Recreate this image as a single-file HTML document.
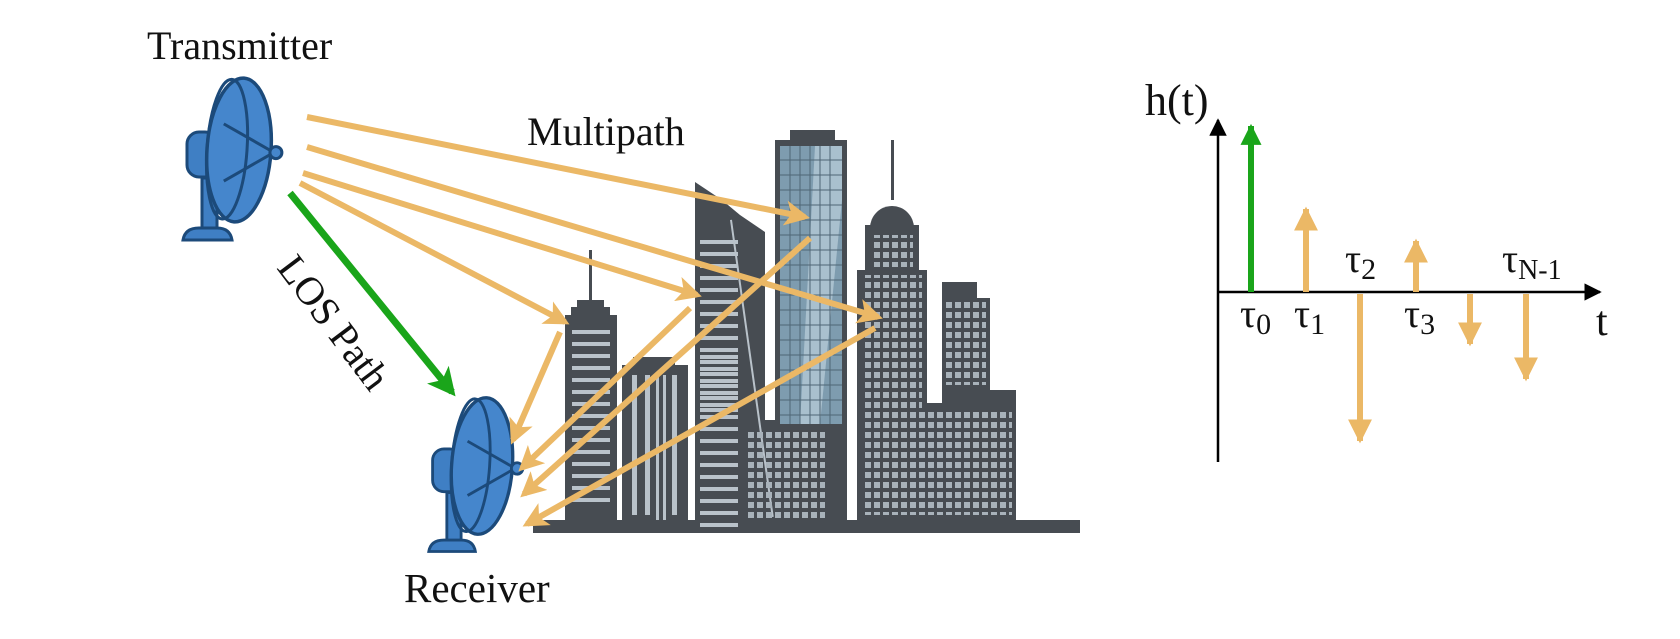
<!DOCTYPE html>
<html><head><meta charset="utf-8"><style>
html,body{margin:0;padding:0;background:#fff;}
svg{display:block;}
text{font-family:"Liberation Serif",serif;fill:#111;}
</style></head><body>
<svg width="1680" height="639" viewBox="0 0 1680 639" xmlns="http://www.w3.org/2000/svg">
<defs>
<marker id="ao" viewBox="0 0 10 10" refX="8" refY="5" markerWidth="4.2" markerHeight="4.2" orient="auto" markerUnits="strokeWidth"><path d="M0,0 L10,5 L0,10 L2.5,5 z" fill="#EBB866"/></marker>
<marker id="ag" viewBox="0 0 10 10" refX="8" refY="5" markerWidth="4" markerHeight="4" orient="auto" markerUnits="strokeWidth"><path d="M0,0 L10,5 L0,10 L2.5,5 z" fill="#1AA51A"/></marker>
<marker id="ao2" viewBox="0 0 10 10" refX="9" refY="5" markerWidth="4" markerHeight="4" orient="auto" markerUnits="strokeWidth"><path d="M0,0 L10,5 L0,10 z" fill="#EBB866"/></marker>
<marker id="ag2" viewBox="0 0 10 10" refX="9" refY="5" markerWidth="3.5" markerHeight="3.5" orient="auto" markerUnits="strokeWidth"><path d="M0,0 L10,5 L0,10 z" fill="#1AA51A"/></marker>
<marker id="ak" viewBox="0 0 10 10" refX="9" refY="5" markerWidth="7" markerHeight="7" orient="auto" markerUnits="strokeWidth"><path d="M0,0 L10,5 L0,10 z" fill="#000"/></marker>
<g id="dish">
<rect x="-52" y="-18" width="30" height="45" rx="12" fill="#3F7FC4" stroke="#1C4A7A" stroke-width="3"/>
<rect x="-37" y="28" width="15" height="55" fill="#3F7FC4" stroke="#1C4A7A" stroke-width="3"/>
<path d="M-56,90 Q-54,78 -40,78 L-22,78 Q-9,78 -7,90 Z" fill="#3F7FC4" stroke="#1C4A7A" stroke-width="3"/>
<g transform="rotate(4)">
<ellipse cx="0" cy="0" rx="32" ry="72" fill="#4586CC" stroke="#1C4A7A" stroke-width="3.5"/>
<ellipse cx="-12" cy="0" rx="20" ry="70" fill="none" stroke="#1C4A7A" stroke-width="3"/>
<path d="M-17,-25 L35,0 L-13,32" fill="none" stroke="#1C4A7A" stroke-width="3"/>
<circle cx="37" cy="0" r="6" fill="#4586CC" stroke="#1C4A7A" stroke-width="3"/>
</g>
</g>
</defs>

<!-- Buildings -->
<g fill="#474C52">
<rect x="533" y="520" width="547" height="13"/>
<rect x="589" y="250" width="3" height="50"/>
<path d="M577,300 L604,300 L604,307 L610,307 L610,315 L617,315 L617,522 L565,522 L565,315 L571,315 L571,307 L577,307 Z"/>
<path d="M633,357 L675,357 L675,365 L688,365 L688,522 L622,522 L622,365 L633,365 Z"/>
<path d="M695,182 L722,200 L740,215 L765,232 L765,522 L695,522 Z"/>
<path d="M790,140 L790,130 L835,130 L835,140 L847,140 L847,522 L775,522 L775,140 Z"/>
<rect x="891" y="140" width="3" height="60"/>
<circle cx="892" cy="228" r="22"/>
<rect x="865" y="225" width="54" height="47"/>
<rect x="857" y="270" width="70" height="252"/>
<path d="M942,282 L977,282 L977,298 L990,298 L990,522 L942,522 Z"/>
<path d="M907,403 L950,403 L950,390 L1016,390 L1016,522 L907,522 Z"/>
<rect x="740" y="420" width="90" height="102"/>
<rect x="720" y="442" width="25" height="80"/>
</g>
<rect x="780" y="146" width="62" height="278" fill="#7E9CAF"/>
<path d="M815,146 L842,146 L842,200 L820,424 L800,424 Z" fill="#A9C0CE"/>
<g stroke="#4F6675" stroke-width="1">
<path d="M780,160H842M780,175H842M780,190H842M780,205H842M780,220H842M780,235H842M780,250H842M780,265H842M780,280H842M780,295H842M780,310H842M780,325H842M780,340H842M780,355H842M780,370H842M780,385H842M780,400H842M780,415H842"/>
<path d="M790,146V424M800,146V424M810,146V424M820,146V424M830,146V424"/>
</g>
<g fill="#B9C2CA">
<g id="ls"><rect x="572" y="330" width="38" height="4"/><rect x="572" y="342" width="38" height="4"/><rect x="572" y="354" width="38" height="4"/><rect x="572" y="366" width="38" height="4"/><rect x="572" y="378" width="38" height="4"/><rect x="572" y="390" width="38" height="4"/><rect x="572" y="402" width="38" height="4"/><rect x="572" y="414" width="38" height="4"/><rect x="572" y="426" width="38" height="4"/><rect x="572" y="438" width="38" height="4"/><rect x="572" y="450" width="38" height="4"/><rect x="572" y="462" width="38" height="4"/><rect x="572" y="474" width="38" height="4"/><rect x="572" y="486" width="38" height="4"/><rect x="572" y="498" width="38" height="4"/></g>
<use href="#ls" transform="translate(128,-90)"/>
<use href="#ls" transform="translate(128,25)"/>
<rect x="632" y="375" width="5" height="140"/><rect x="645" y="375" width="5" height="140"/><rect x="656" y="375" width="3" height="145"/><rect x="663" y="375" width="3" height="145"/><rect x="672" y="375" width="5" height="140"/>
<rect x="730" y="220" width="2" height="300" transform="rotate(-8 730 220)"/>
</g>
<pattern id="win" width="9" height="10" patternUnits="userSpaceOnUse"><rect x="1" y="2" width="6" height="6" fill="#A8B2BA"/></pattern>
<rect x="862" y="275" width="60" height="240" fill="url(#win)"/>
<rect x="873" y="235" width="40" height="32" fill="url(#win)"/>
<rect x="946" y="300" width="40" height="85" fill="url(#win)"/>
<rect x="912" y="410" width="100" height="105" fill="url(#win)"/>
<rect x="745" y="428" width="80" height="90" fill="url(#win)"/>

<!-- Dishes -->
<use href="#dish" transform="translate(239,150)"/>
<use href="#dish" transform="translate(482,466) scale(0.95)"/>

<!-- Multipath arrows -->
<g stroke="#EBB866" stroke-width="6" fill="none" marker-end="url(#ao)">
<line x1="307" y1="117" x2="805" y2="217"/>
<line x1="307" y1="147" x2="878" y2="317"/>
<line x1="303" y1="173" x2="697" y2="295"/>
<line x1="300" y1="183" x2="565" y2="322"/>
<line x1="560" y1="332" x2="513" y2="440"/>
<line x1="690" y1="308" x2="522" y2="468"/>
<line x1="810" y1="238" x2="524" y2="494"/>
<line x1="875" y1="328" x2="527" y2="524"/>
</g>
<line x1="290" y1="193" x2="452" y2="392" stroke="#1AA51A" stroke-width="7" marker-end="url(#ag)"/>

<!-- labels -->
<text x="147" y="59" font-size="40">Transmitter</text>
<text x="527" y="145" font-size="40">Multipath</text>
<text x="404" y="602" font-size="41">Receiver</text>
<text transform="translate(276,268) rotate(53)" font-size="40">LOS Path</text>

<!-- Plot -->
<line x1="1218" y1="462" x2="1218" y2="120" stroke="#000" stroke-width="2.5" marker-end="url(#ak)"/>
<line x1="1218" y1="292" x2="1600" y2="292" stroke="#000" stroke-width="2.5" marker-end="url(#ak)"/>
<line x1="1251" y1="292" x2="1251" y2="126" stroke="#1AA51A" stroke-width="6" marker-end="url(#ag2)"/>
<g stroke="#EBB866" stroke-width="6" marker-end="url(#ao2)">
<line x1="1306" y1="292" x2="1306" y2="209"/>
<line x1="1360" y1="294" x2="1360" y2="441"/>
<line x1="1416" y1="292" x2="1416" y2="241"/>
<line x1="1470" y1="294" x2="1470" y2="344"/>
<line x1="1526" y1="294" x2="1526" y2="379"/>
</g>
<text x="1145" y="115" font-size="44">h(t)</text>
<text x="1240" y="327" font-size="40">τ<tspan font-size="30" dy="7">0</tspan></text>
<text x="1294" y="327" font-size="40">τ<tspan font-size="30" dy="7">1</tspan></text>
<text x="1345" y="272" font-size="40">τ<tspan font-size="30" dy="7">2</tspan></text>
<text x="1404" y="327" font-size="40">τ<tspan font-size="30" dy="7">3</tspan></text>
<text x="1502" y="272" font-size="40">τ<tspan font-size="28" dy="7">N-1</tspan></text>
<text x="1596" y="335" font-size="42">t</text>
</svg>
</body></html>
